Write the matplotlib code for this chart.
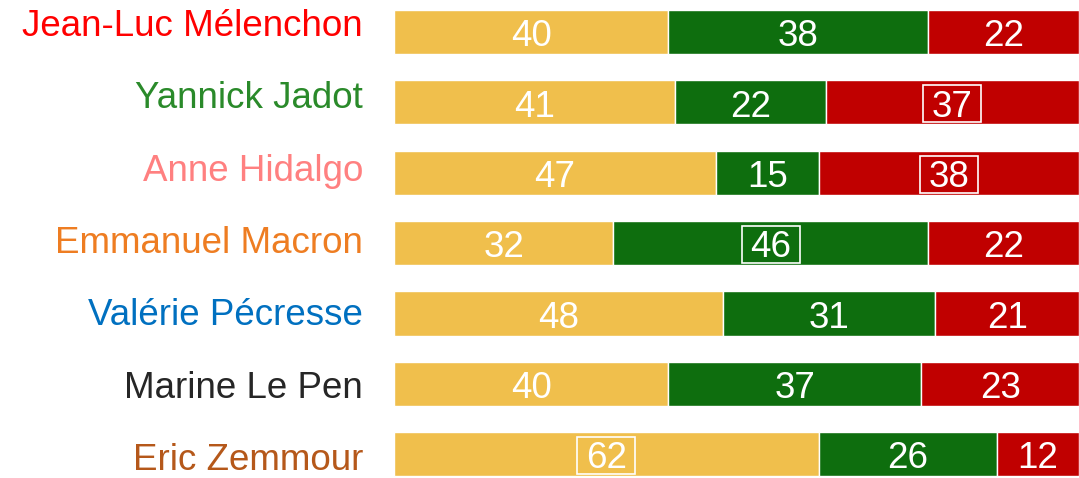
import matplotlib
matplotlib.use("Agg")
import matplotlib.pyplot as plt
from matplotlib.patches import Rectangle
import numpy as np

plt.rcParams['font.family'] = ['Liberation Sans', 'DejaVu Sans']

candidates = ["Jean-Luc Mélenchon", "Yannick Jadot", "Anne Hidalgo", "Emmanuel Macron",
              "Valérie Pécresse", "Marine Le Pen", "Eric Zemmour"]
name_colors = ["#FF0000", "#2A8A2A", "#FF8080", "#EE7D22", "#0070C0", "#262626", "#B5581A"]

yellow_vals = [40, 41, 47, 32, 48, 40, 62]
green_vals = [38, 22, 15, 46, 31, 37, 26]
red_vals = [22, 37, 38, 22, 21, 23, 12]

# which segment label is framed in each row (0 yellow, 1 green, 2 red, None)
boxed = [None, 2, 2, 1, None, None, 0]

seg_colors = ["#F0BF4C", "#0E6E0E", "#C00000"]

W, H = 1079, 478
fig = plt.figure(figsize=(W / 100, H / 100), dpi=100)
ax_left_px = 394
ax = fig.add_axes([ax_left_px / W, 0, 1 - ax_left_px / W, 1])

y = np.arange(len(candidates))
series = [yellow_vals, green_vals, red_vals]
left = np.zeros(len(candidates))
bar_h = 0.63
px_per_x = (W - ax_left_px) / 100.0
px_per_y = 70.33
box_w = 58 / px_per_x
box_h = 37 / px_per_y

for si, vals in enumerate(series):
    vals = np.array(vals, dtype=float)
    ax.barh(y, vals, left=left, height=bar_h, color=seg_colors[si],
            edgecolor="white", linewidth=1.0)
    for i, v in enumerate(vals):
        cx = left[i] + v / 2
        ax.text(cx, y[i] + 0.205, f"{int(v)}", ha="center", va="baseline",
                color="white", fontsize=26.5)
        if boxed[i] == si:
            ax.add_patch(Rectangle((cx - box_w / 2, y[i] + 0.02 - box_h / 2), box_w, box_h,
                                   fill=False, ec="white", lw=1.2))
    left += vals

ax.set_xlim(0, 100)
ax.set_ylim(len(candidates) - 1 + 0.341, -0.455)
ax.axis("off")

# candidate names, right-aligned in the left margin
for i, (name, c) in enumerate(zip(candidates, name_colors)):
    base_px = 36 + 72.3 * i
    fig.text(363 / W, 1 - base_px / H, name, ha="right", va="baseline", color=c,
             fontsize=26.5)

fig.savefig("out.png", dpi=100)
